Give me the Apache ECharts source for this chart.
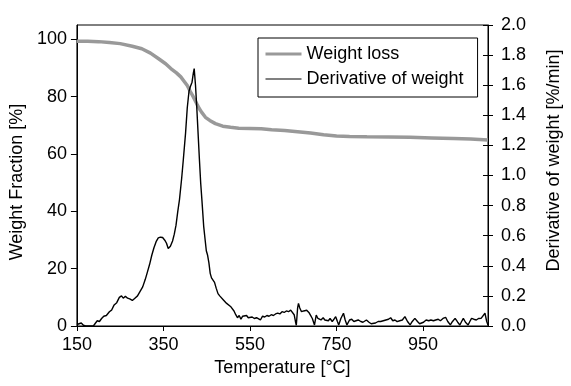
<!DOCTYPE html>
<html>
<head>
<meta charset="utf-8">
<script src="https://cdn.jsdelivr.net/npm/echarts@6/dist/echarts.min.js"></script>
<style>html,body{margin:0;padding:0;background:#fff}#c{width:571px;height:386px}</style>
</head>
<body>
<div id="c"></div>
<script>
const xTicks = [150, 350, 550, 750, 950];
const leftTicks = [0, 20, 40, 60, 80, 100];

const weightT = [150,175,200,225,250,278,300,320,338,355,367,380,390,398,405,412,419,427,433,438,447,457,470,487,505,524,550,576,600,630,660,690,720,750,780,820,870,920,970,1020,1060,1100];
const weightV = [99.3,99.3,99.2,98.9,98.5,97.6,96.7,95.2,93.3,91.5,89.8,88.3,86.9,85.3,83.9,81.8,79.9,77.5,75.8,74.6,72.8,71.7,70.6,69.7,69.3,69.0,68.9,68.8,68.5,68.2,67.8,67.3,66.7,66.3,66.1,66.0,65.9,65.8,65.6,65.4,65.2,64.9];

const derivT = [150,155,160,165,170,188,193,197,202,207,212,218,225,230,236,242,248,253,257,262,267,272,278,284,290,296,302,308,313,318,323,328,333,338,343,348,353,357,361,366,371,375,379,383,387,392,396,401,405,409,412,416,419,421,424,427,430,433,436,439,443,446,449,452,455,458,461,464,468,472,476,480,484,488,492,496,500,505,509,513,517,521,525,529,533,537,542,546,550,555,560,565,569,574,579,584,589,594,599,604,609,614,619,624,629,634,639,644,648,652,655,657,660,662,665,669,674,678,681,686,690,694,699,703,707,711,714,719,723,727,731,735,740,744,748,752,755,760,766,770,774,780,785,790,795,800,806,811,815,819,825,830,834,840,846,852,858,864,870,875,880,885,890,896,902,908,914,920,925,931,937,942,946,951,957,963,968,974,979,985,990,996,1002,1007,1013,1018,1024,1030,1035,1039,1043,1048,1054,1058,1062,1067,1073,1078,1084,1088,1093,1097,1100];
const derivV = [0.01,0.015,0.02,0.005,0,0,0.02,0.035,0.03,0.05,0.065,0.07,0.095,0.105,0.14,0.155,0.19,0.2,0.185,0.198,0.185,0.18,0.17,0.185,0.2,0.23,0.26,0.31,0.36,0.41,0.47,0.52,0.56,0.585,0.59,0.588,0.57,0.55,0.515,0.53,0.565,0.61,0.67,0.76,0.84,0.98,1.11,1.28,1.45,1.56,1.59,1.62,1.68,1.71,1.6,1.45,1.28,1.11,0.95,0.83,0.66,0.58,0.5,0.47,0.42,0.35,0.32,0.315,0.29,0.25,0.215,0.2,0.19,0.175,0.17,0.15,0.145,0.13,0.118,0.1,0.075,0.055,0.07,0.045,0.065,0.06,0.07,0.055,0.065,0.06,0.05,0.055,0.045,0.04,0.065,0.06,0.07,0.065,0.075,0.07,0.08,0.085,0.08,0.095,0.09,0.1,0.095,0.105,0.1,0.075,0.03,0.005,0.12,0.15,0.12,0.095,0.1,0.09,0.105,0.09,0.07,0.05,0.007,0.073,0.05,0.045,0.04,0.055,0.04,0.05,0.035,0.05,0.03,0.045,0.062,0.03,0.007,0.05,0.085,0.04,0.007,0.04,0.045,0.03,0.035,0.04,0.03,0.025,0.035,0.04,0.025,0.015,0.007,0.02,0.03,0.03,0.035,0.04,0.045,0.055,0.035,0.04,0.029,0.035,0.04,0.062,0.03,0.007,0.03,0.051,0.03,0.015,0.007,0.025,0.04,0.035,0.04,0.035,0.04,0.045,0.035,0.05,0.058,0.03,0.007,0.03,0.051,0.025,0.007,0.03,0.051,0.025,0.007,0.03,0.051,0.045,0.04,0.05,0.051,0.06,0.085,0.03,0.007];

const FONT = 'Liberation Sans, Arial, sans-serif';
const txt = {color: '#000', fontSize: 18, fontFamily: FONT};

const chart = echarts.init(document.getElementById('c'), null, {renderer: 'canvas'});
chart.setOption({
  animation: false,
  backgroundColor: '#fff',
  grid: {left: 73, right: 74, top: 25, bottom: 60, show: true, borderColor: '#000', borderWidth: 1, backgroundColor: 'transparent'},
  legend: {
    orient: 'vertical', left: 258, top: 38,
    data: [
      {name: 'Weight loss', lineStyle: {color: '#999999', width: 3}},
      {name: 'Derivative of weight', lineStyle: {color: '#808080', width: 2}}
    ],
    borderColor: '#000', borderWidth: 1, borderRadius: 0,
    padding: [7, 14, 9, 6], itemWidth: 36, itemHeight: 14, itemGap: 7,
    itemStyle: {color: 'rgba(0,0,0,0)', borderWidth: 0},
    textStyle: txt, backgroundColor: '#fff'
  },
  xAxis: {
    type: 'value', min: 150, max: 1100,
    name: 'Temperature [°C]', nameLocation: 'middle', nameGap: 29, nameTextStyle: txt,
    axisLine: {show: true, lineStyle: {color: '#000', width: 1}},
    axisTick: {show: true, inside: false, length: 5, lineStyle: {color: '#000'}, customValues: xTicks},
    axisLabel: Object.assign({margin: 10, customValues: xTicks}, txt),
    splitLine: {show: false}
  },
  yAxis: [{
    type: 'value', min: 0, max: 105, position: 'left',
    name: 'Weight Fraction [%]', nameLocation: 'middle', nameGap: 47,
    nameTextStyle: Object.assign({padding: [0, 13, 0, 0]}, txt),
    axisLine: {show: true, lineStyle: {color: '#000', width: 1}},
    axisTick: {show: true, inside: false, length: 6, lineStyle: {color: '#000'}, customValues: leftTicks},
    axisLabel: Object.assign({margin: 10, customValues: leftTicks}, txt),
    splitLine: {show: false}
  }, {
    type: 'value', min: 0, max: 2, interval: 0.2, position: 'right',
    name: 'Derivative of weight [%/min]', nameLocation: 'middle', nameGap: 57,
    nameTextStyle: Object.assign({padding: [0, 0, 0, 30]}, txt),
    axisLine: {show: true, lineStyle: {color: '#000', width: 1}},
    axisTick: {show: true, inside: false, length: 5, lineStyle: {color: '#000'}},
    axisLabel: Object.assign({margin: 13, formatter: v => v.toFixed(1)}, txt),
    splitLine: {show: false}
  }, {
    type: 'value', min: 0, max: 2, interval: 0.2, position: 'right',
    axisLine: {show: false},
    axisTick: {show: true, inside: true, length: 5, lineStyle: {color: '#000'}},
    axisLabel: {show: false},
    splitLine: {show: false}
  }],
  series: [{
    name: 'Weight loss', type: 'line', yAxisIndex: 0, symbol: 'none', showSymbol: false,
    data: weightT.map((t, i) => [t, weightV[i]]),
    lineStyle: {color: '#999999', width: 3.5}, itemStyle: {color: '#999999'}, z: 2
  }, {
    name: 'Derivative of weight', type: 'line', yAxisIndex: 1, symbol: 'none', showSymbol: false,
    data: derivT.map((t, i) => [t, derivV[i]]),
    lineStyle: {color: '#000', width: 1.4}, itemStyle: {color: '#000'}, z: 3
  }]
});
</script>
</body>
</html>
